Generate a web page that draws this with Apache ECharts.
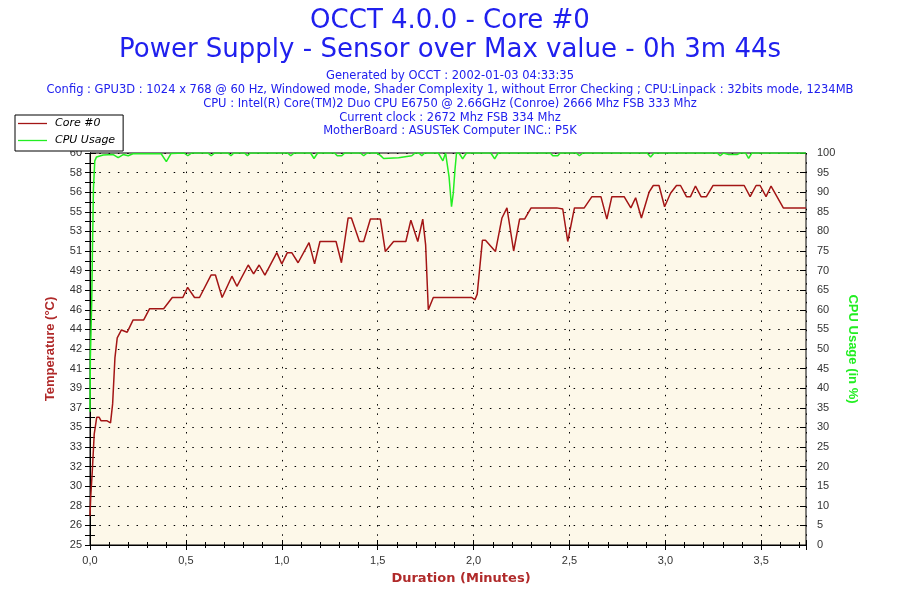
<!DOCTYPE html>
<html><head><meta charset="utf-8">
<script src="https://cdn.jsdelivr.net/npm/echarts@6/dist/echarts.min.js"></script>
<style>html,body{margin:0;padding:0;background:#fff}#c{width:900px;height:600px}</style>
</head><body><div id="c"></div>
<script>
const titleLines = ['OCCT 4.0.0 - Core #0', 'Power Supply - Sensor over Max value - 0h 3m 44s'];
const infoLines = [
  'Generated by OCCT : 2002-01-03 04:33:35',
  'Config : GPU3D : 1024 x 768 @ 60 Hz, Windowed mode, Shader Complexity 1, without Error Checking ; CPU:Linpack : 32bits mode, 1234MB',
  'CPU : Intel(R) Core(TM)2 Duo CPU E6750 @ 2.66GHz (Conroe) 2666 Mhz FSB 333 Mhz',
  'Current clock : 2672 Mhz FSB 334 Mhz',
  'MotherBoard : ASUSTeK Computer INC.: P5K'
];
const seriesNames = ['Core #0', 'CPU Usage'];
const tempTickLabels = ['25','26','28','30','32','33','35','37','39','41','42','44','46','48','49','51','53','55','56','58','60'];

// Core #0 temperature (°C) vs duration (minutes)
const coreTime = [0.000,0.004,0.012,0.022,0.035,0.048,0.057,0.087,0.107,0.118,0.130,0.142,0.164,0.194,0.225,0.280,0.311,0.384,0.429,0.484,0.509,0.545,0.571,0.631,0.654,0.689,0.740,0.766,0.825,0.853,0.882,0.912,0.974,1.000,1.029,1.052,1.085,1.142,1.171,1.199,1.283,1.311,1.346,1.363,1.405,1.427,1.462,1.514,1.540,1.583,1.647,1.673,1.709,1.735,1.750,1.764,1.790,1.989,2.007,2.019,2.046,2.062,2.114,2.148,2.174,2.209,2.240,2.266,2.300,2.321,2.434,2.465,2.491,2.526,2.577,2.617,2.664,2.695,2.721,2.785,2.820,2.845,2.875,2.915,2.937,2.967,2.996,3.027,3.058,3.079,3.110,3.131,3.157,3.186,3.214,3.249,3.411,3.442,3.473,3.494,3.525,3.551,3.615,3.733];
const coreTemp = [27.6,29.4,31.6,34.9,36.4,36.4,36.1,36.1,35.9,37.6,41.7,43.5,44.2,44.0,45.1,45.1,46.1,46.1,47.1,47.1,48.0,47.1,47.1,49.1,49.1,47.1,49.0,48.1,50.0,49.2,50.0,49.1,51.1,50.1,51.1,51.1,50.2,52.0,50.1,52.1,52.1,50.2,54.2,54.2,52.1,52.1,54.1,54.1,51.2,52.1,52.1,54.0,52.1,54.1,51.8,46.0,47.1,47.1,46.9,47.4,52.2,52.2,51.2,54.2,55.1,51.25,54.1,54.1,55.1,55.1,55.1,55.0,52.1,55.1,55.1,56.1,56.1,54.1,56.1,56.1,55.1,56.0,54.2,56.5,57.1,57.1,55.2,56.4,57.1,57.1,56.1,56.1,57.05,56.1,56.1,57.1,57.1,56.1,57.1,57.1,56.1,57.05,55.1,55.1];

// CPU usage (%) vs duration (minutes)
const cpuTime = [0.000,0.002,0.006,0.009,0.011,0.013,0.018,0.022,0.025,0.034,0.069,0.121,0.147,0.173,0.199,0.224,0.371,0.398,0.423,0.490,0.510,0.530,0.615,0.632,0.650,0.720,0.735,0.750,0.805,0.821,0.836,1.030,1.047,1.064,1.150,1.168,1.187,1.275,1.289,1.313,1.328,1.410,1.427,1.445,1.495,1.514,1.531,1.609,1.678,1.695,1.715,1.730,1.745,1.816,1.840,1.854,1.872,1.885,1.894,1.903,1.911,1.924,1.943,1.963,2.090,2.110,2.128,2.400,2.413,2.439,2.452,2.535,2.552,2.570,2.905,2.923,2.941,3.270,3.286,3.303,3.330,3.373,3.390,3.418,3.434,3.451,3.733];
const cpuUsage = [34,48,48,62,62,76,91,91,98,99,99.5,99.6,98.8,99.6,99.3,99.8,99.8,97.8,99.9,100,99.3,100,100,99.3,100,100,99.3,100,100,99.3,100,100,99.3,100,100,98.6,100,100,99.3,99.3,100,100,99.3,100,100,99.4,98.6,98.8,99.3,100,100,99.3,100,100,98,100,94,86.3,89.7,95.7,100,100,98.5,100,100,98.5,100,100,99.3,99.3,100,100,99.3,100,100,99.0,100,100,99.3,100,99.6,99.6,100,100,98.6,100,100];

const X_MAX = 3.7333;
const coreData = coreTime.map((t, i) => [t, coreTemp[i]]);
const cpuData = cpuTime.map((t, i) => [t, cpuUsage[i]]);

const RED = '#A31515';
const GREEN = '#22EE22';
const BLUE = '#2020EE';
const NAME_RED = '#B02A2A';
const dotted = { type: [1.5, 7.8], color: '#000', width: 1 };
const tickLab = { fontFamily: 'Liberation Sans', fontSize: 11, color: '#333' };
const LEGEND_LINE = 'path://M0,0 H29 V1.3 H0 Z';

const titles = [
  { text: titleLines[0], left: 'center', top: 6, padding: 0, textStyle: { fontFamily: 'DejaVu Sans', fontSize: 26, fontWeight: 'normal', color: BLUE, lineHeight: 30 } },
  { text: titleLines[1], left: 'center', top: 35, padding: 0, textStyle: { fontFamily: 'DejaVu Sans', fontSize: 26, fontWeight: 'normal', color: BLUE, lineHeight: 30 } }
];
const infoCenters = [76.5, 90.5, 104.5, 118.5, 131.5];
infoLines.forEach((s, i) => titles.push({
  text: s, left: 'center', top: infoCenters[i] - 7, padding: 0,
  textStyle: { fontFamily: 'DejaVu Sans', fontSize: 11.5, fontWeight: 'normal', color: BLUE, lineHeight: 14 }
}));

const xFmt = v => (Math.abs(v / 0.5 - Math.round(v / 0.5)) < 1e-6) ? v.toFixed(1).replace('.', ',') : '';

const chart = echarts.init(document.getElementById('c'), null, { renderer: 'canvas' });
chart.setOption({
  animation: false,
  backgroundColor: '#fff',
  title: titles,
  legend: {
    left: 15, top: 115, orient: 'vertical',
    data: [{ name: seriesNames[0], icon: LEGEND_LINE }, { name: seriesNames[1], icon: LEGEND_LINE }],
    backgroundColor: '#fff', borderColor: '#000', borderWidth: 1, borderRadius: 0,
    padding: [3, 8, 5, 3], itemGap: 6, itemWidth: 29, itemHeight: 14,
    itemStyle: { borderWidth: 0 },
    textStyle: { fontFamily: 'DejaVu Sans', fontSize: 11, fontStyle: 'italic', color: '#000', padding: [0, 0, 0, 3] }
  },
  grid: {
    left: 90, right: 94, top: 153, bottom: 55,
    show: true, backgroundColor: '#FDF8E9', borderColor: '#000', borderWidth: 1,
    containLabel: false, outerBoundsMode: 'none'
  },
  xAxis: [
    {
      type: 'value', position: 'bottom', min: 0, max: X_MAX, interval: 0.5,
      name: 'Duration (Minutes)', nameLocation: 'middle', nameGap: 27,
      nameTextStyle: { fontFamily: 'DejaVu Sans', fontSize: 13, fontWeight: 'bold', color: NAME_RED, padding: [0, 0, 0, 26] },
      axisLine: { show: true, lineStyle: { color: '#000', width: 1 } },
      axisTick: { show: true, length: 5, lineStyle: { color: '#000' } },
      minorTick: { show: true, splitNumber: 5, length: 3, lineStyle: { color: '#000' } },
      axisLabel: Object.assign({ margin: 10, formatter: xFmt, showMaxLabel: false }, tickLab),
      splitLine: { show: true, lineStyle: dotted }
    },
    {
      type: 'value', position: 'bottom', min: 0, max: X_MAX, interval: 0.5,
      axisLine: { show: false },
      axisTick: { show: true, inside: true, length: 5, lineStyle: { color: '#000' } },
      minorTick: { show: true, splitNumber: 5, length: 3, lineStyle: { color: '#000' } },
      axisLabel: { show: false }, splitLine: { show: false }
    }
  ],
  yAxis: [
    {
      type: 'value', position: 'left', min: 25, max: 60, interval: 1.75,
      name: 'Temperature (°C)', nameLocation: 'middle', nameGap: 33, nameRotate: 90,
      nameTextStyle: { fontFamily: 'Liberation Sans', fontSize: 13, fontWeight: 'bold', color: NAME_RED },
      axisLine: { show: true, lineStyle: { color: '#000', width: 1 } },
      axisTick: { show: true, length: 5, lineStyle: { color: '#000' } },
      minorTick: { show: true, splitNumber: 2, length: 5, lineStyle: { color: '#000' } },
      axisLabel: Object.assign({ margin: 8, formatter: v => tempTickLabels[Math.round((v - 25) / 1.75)] }, tickLab),
      splitLine: { show: false }
    },
    {
      type: 'value', position: 'right', min: 0, max: 100, interval: 5,
      name: 'CPU Usage (in %)', nameLocation: 'middle', nameGap: 26, nameRotate: -90,
      nameTextStyle: { fontFamily: 'Liberation Sans', fontSize: 13, fontWeight: 'bold', color: GREEN },
      axisLine: { show: true, lineStyle: { color: '#000', width: 1 } },
      axisTick: { show: true, length: 6, lineStyle: { color: '#000' } },
      minorTick: { show: true, splitNumber: 2, length: 5, lineStyle: { color: '#000' } },
      axisLabel: Object.assign({ margin: 11 }, tickLab),
      splitLine: { show: true, lineStyle: dotted }
    },
    {
      type: 'value', position: 'left', min: 25, max: 60, interval: 1.75,
      axisLine: { show: false },
      axisTick: { show: true, inside: true, length: 5, lineStyle: { color: '#000' } },
      axisLabel: { show: false }, splitLine: { show: false }
    },
    {
      type: 'value', position: 'right', min: 0, max: 100, interval: 5,
      axisLine: { show: false },
      axisTick: { show: true, inside: true, length: 6, lineStyle: { color: '#000' } },
      axisLabel: { show: false }, splitLine: { show: false }
    }
  ],
  series: [
    {
      name: seriesNames[0], type: 'line', xAxisIndex: 0, yAxisIndex: 0,
      data: coreData, symbol: 'none', smooth: false,
      lineStyle: { color: RED, width: 1.5 }, itemStyle: { color: RED }
    },
    {
      name: seriesNames[1], type: 'line', xAxisIndex: 0, yAxisIndex: 1,
      data: cpuData, symbol: 'none', smooth: false,
      lineStyle: { color: GREEN, width: 1.5 }, itemStyle: { color: GREEN }
    }
  ]
});
</script>
</body></html>
